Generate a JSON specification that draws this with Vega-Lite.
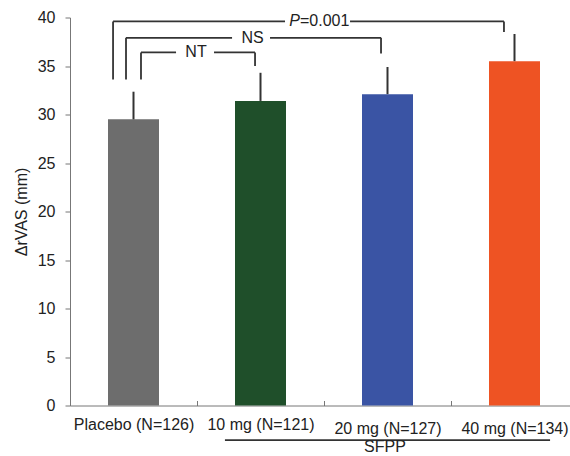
{
  "$schema": "https://vega.github.io/schema/vega-lite/v6.json",
  "width": 500,
  "height": 388,
  "autosize": {"type": "none"},
  "padding": {"left": 70, "top": 17.5, "right": 0, "bottom": 50.5},
  "config": {
    "view": {"stroke": null},
    "font": "Liberation Sans",
    "text": {"font": "Liberation Sans", "fontSize": 16, "color": "#222"}
  },
  "datasets": {
    "bars": [
      {"group": "Placebo (N=126)", "pos": 0.5, "mean": 29.5, "upper": 32.35},
      {"group": "10 mg (N=121)", "pos": 1.5, "mean": 31.4, "upper": 34.3},
      {"group": "20 mg (N=127)", "pos": 2.5, "mean": 32.1, "upper": 34.9},
      {"group": "40 mg (N=134)", "pos": 3.5, "mean": 35.5, "upper": 38.3}
    ],
    "brackets": [
      {"x": 0.559, "y": 33.6, "x2": 0.559, "y2": 36.4},
      {"x": 0.559, "y": 36.4, "x2": 0.835, "y2": 36.4},
      {"x": 1.134, "y": 36.4, "x2": 1.457, "y2": 36.4},
      {"x": 1.457, "y": 36.4, "x2": 1.457, "y2": 35.0},
      {"x": 0.441, "y": 33.6, "x2": 0.441, "y2": 37.9},
      {"x": 0.441, "y": 37.9, "x2": 1.276, "y2": 37.9},
      {"x": 1.575, "y": 37.9, "x2": 2.449, "y2": 37.9},
      {"x": 2.449, "y": 37.9, "x2": 2.449, "y2": 36.3},
      {"x": 0.339, "y": 33.6, "x2": 0.339, "y2": 39.6},
      {"x": 0.339, "y": 39.6, "x2": 1.693, "y2": 39.6},
      {"x": 2.205, "y": 39.6, "x2": 3.417, "y2": 39.6},
      {"x": 3.417, "y": 39.6, "x2": 3.417, "y2": 38.5},
      {"x": 1.22, "y": -3.56, "x2": 3.78, "y2": -3.56}
    ],
    "labels": [
      {"label": "NT", "x": 0.992, "y": 36.4},
      {"label": "NS", "x": 1.437, "y": 37.9},
      {"label": "SFPP", "x": 2.48, "y": -4.3}
    ],
    "plabel": [
      {"italic": "P", "rest": "=0.001", "x": 1.811, "y": 39.6}
    ]
  },
  "layer": [
    {
      "data": {"name": "bars"},
      "mark": {"type": "bar", "width": 51, "orient": "vertical"},
      "encoding": {
        "x": {
          "field": "pos", "type": "quantitative",
          "scale": {"domain": [0, 3.937], "nice": false, "zero": false, "padding": 0},
          "axis": {
            "values": [0.5, 1, 1.5, 2, 2.5, 3, 3.5],
            "labelExpr": "datum.value == 0.5 ? 'Placebo (N=126)' : datum.value == 1.5 ? '10 mg (N=121)' : datum.value == 2.5 ? '20 mg (N=127)' : datum.value == 3.5 ? '40 mg (N=134)' : ''",
            "tickSize": -5,
            "tickOpacity": {"condition": {"test": "datum.value % 1 === 0", "value": 1}, "value": 0},
            "grid": false,
            "title": null,
            "labelFontSize": 16,
            "labelFont": "Liberation Sans",
            "labelBaseline": "middle",
            "labelPadding": {"condition": {"test": "datum.value >= 2.4", "value": 28}, "value": 24},
            "labelColor": "#222",
            "domainColor": "#777",
            "tickColor": "#777",
            "labelOverlap": false,
            "labelFlush": false
          }
        },
        "y": {
          "field": "mean", "type": "quantitative",
          "scale": {"domain": [0, 40], "nice": false},
          "axis": {
            "values": [0, 5, 10, 15, 20, 25, 30, 35, 40],
            "title": "ΔrVAS (mm)",
            "titleFont": "Liberation Sans",
            "titleFontSize": 16,
            "titleFontWeight": "normal",
            "titleColor": "#222",
            "titlePadding": 8,
            "tickSize": 5,
            "labelPadding": 10,
            "labelFontSize": 16,
            "labelFont": "Liberation Sans",
            "labelColor": "#222",
            "domainColor": "#777",
            "tickColor": "#777",
            "grid": false
          }
        },
        "color": {
          "field": "group", "type": "nominal",
          "scale": {
            "domain": ["Placebo (N=126)", "10 mg (N=121)", "20 mg (N=127)", "40 mg (N=134)"],
            "range": ["#6d6d6d", "#1f4f2a", "#3a54a4", "#ee5323"]
          },
          "legend": null
        }
      }
    },
    {
      "data": {"name": "bars"},
      "mark": {"type": "rule", "color": "#333", "strokeWidth": 2},
      "encoding": {
        "x": {"field": "pos", "type": "quantitative"},
        "y": {"field": "mean", "type": "quantitative"},
        "y2": {"field": "upper"}
      }
    },
    {
      "data": {"name": "brackets"},
      "mark": {"type": "rule", "color": "#333", "strokeWidth": 1.8},
      "encoding": {
        "x": {"field": "x", "type": "quantitative"},
        "x2": {"field": "x2"},
        "y": {"field": "y", "type": "quantitative"},
        "y2": {"field": "y2"}
      }
    },
    {
      "data": {"name": "labels"},
      "mark": {"type": "text", "align": "center", "baseline": "middle"},
      "encoding": {
        "x": {"field": "x", "type": "quantitative"},
        "y": {"field": "y", "type": "quantitative"},
        "text": {"field": "label"}
      }
    },
    {
      "data": {"name": "plabel"},
      "mark": {"type": "text", "align": "right", "baseline": "middle", "fontStyle": "italic"},
      "encoding": {
        "x": {"field": "x", "type": "quantitative"},
        "y": {"field": "y", "type": "quantitative"},
        "text": {"field": "italic"}
      }
    },
    {
      "data": {"name": "plabel"},
      "mark": {"type": "text", "align": "left", "baseline": "middle"},
      "encoding": {
        "x": {"field": "x", "type": "quantitative"},
        "y": {"field": "y", "type": "quantitative"},
        "text": {"field": "rest"}
      }
    }
  ]
}
